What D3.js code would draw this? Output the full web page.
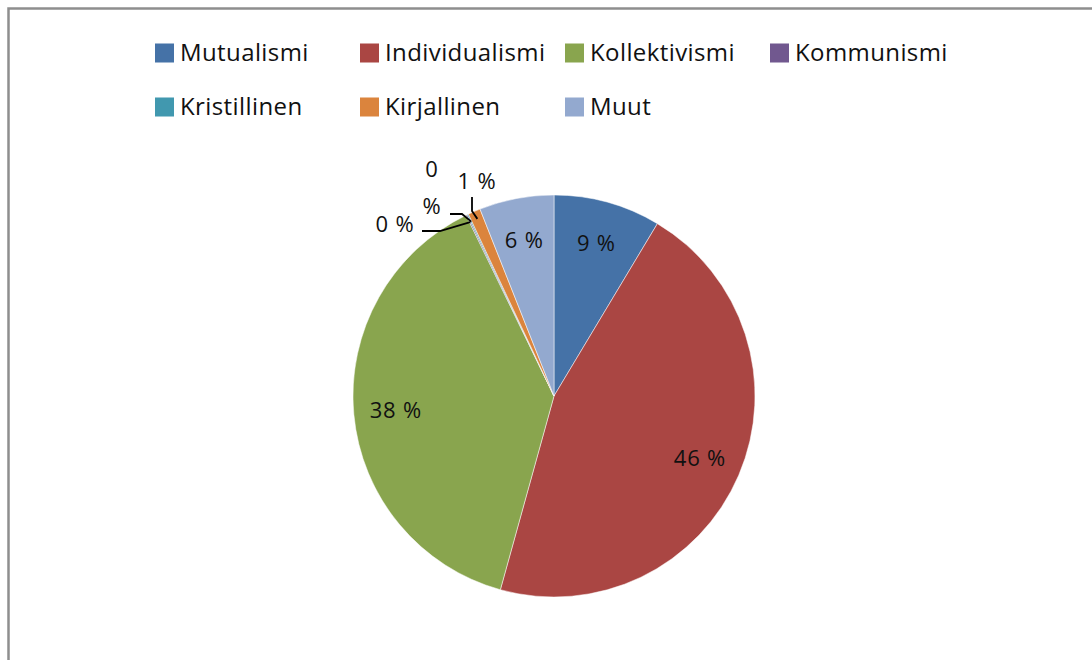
<!DOCTYPE html>
<html>
<head>
<meta charset="utf-8">
<script src="https://cdn.jsdelivr.net/npm/d3@7"></script>
<style>
  html, body { margin: 0; padding: 0; background: #fff; }
  svg { display: block; }
  text { font-family: "Open Sans", Lato, sans-serif; }
</style>
</head>
<body>
<svg id="chart" width="1092" height="660"></svg>
<script>
// slice order as drawn, clockwise from 12 o'clock
const categories = ['Mutualismi', 'Individualismi', 'Kollektivismi', 'Kommunismi', 'Kristillinen', 'Kirjallinen', 'Muut'];
const shares = [8.6, 45.7, 38.5, 0.1, 0.1, 1.0, 6.0];
const labels = ['9 %', '46 %', '38 %', '0 %', '0\n%', '1 %', '6 %'];
const colors = ['#4572A7', '#AA4643', '#89A54E', '#71588F', '#4198AF', '#DB843D', '#93A9CF'];

const svg = d3.select('#chart');
const cx = 554, cy = 396, radius = 201;

// frame of the chart area (runs off the right and bottom of the shot)
svg.append('rect')
    .attr('x', 8.5).attr('y', 8.5)
    .attr('width', 1200).attr('height', 800)
    .attr('fill', '#fff')
    .attr('stroke', '#8e8e8e')
    .attr('stroke-width', 2.5);

const data = categories.map((c, i) => ({name: c, value: shares[i], label: labels[i], color: colors[i]}));

const pie = d3.pie().sort(null).value(d => d.value);
const arcs = pie(data);

const arc = d3.arc().innerRadius(0).outerRadius(radius);
const labelArc = d3.arc().innerRadius(radius * 0.79).outerRadius(radius * 0.79);
const edgeArc = d3.arc().innerRadius(radius - 8).outerRadius(radius - 8);

const g = svg.append('g').attr('transform', `translate(${cx},${cy})`);

g.selectAll('path')
    .data(arcs)
    .enter()
    .append('path')
    .attr('d', arc)
    .attr('fill', d => d.data.color)
    .attr('stroke', '#fff')
    .attr('stroke-width', 0.5);

// small slices get their labels outside, with leader lines (offsets from the pie centre)
const outside = {
    'Kommunismi':   {x: -159, y: -172, lead: [[-132, -165], [-114, -165]]},
    'Kristillinen': {x: -122, y: -227, lead: [[-104, -182], [-92, -182]]},
    'Kirjallinen':  {x: -77,  y: -215, lead: [[-82, -199], [-82, -185]]}
};

const inside = arcs.filter(d => !outside[d.data.name]);
const outer = arcs.filter(d => outside[d.data.name]);

g.selectAll('text.in')
    .data(inside)
    .enter()
    .append('text')
    .attr('class', 'in')
    .attr('transform', d => `translate(${labelArc.centroid(d)})`)
    .attr('text-anchor', 'middle')
    .attr('dy', '0.35em')
    .attr('font-size', 22)
    .attr('letter-spacing', 0.8)
    .attr('fill', '#111')
    .text(d => d.data.label);

g.selectAll('polyline')
    .data(outer)
    .enter()
    .append('polyline')
    .attr('points', d => {
        const o = outside[d.data.name];
        return [...o.lead, edgeArc.centroid(d)].map(p => p.join(',')).join(' ');
    })
    .attr('fill', 'none')
    .attr('stroke', '#000')
    .attr('stroke-width', 1.8);

const outText = g.selectAll('text.out')
    .data(outer)
    .enter()
    .append('text')
    .attr('class', 'out')
    .attr('text-anchor', 'middle')
    .attr('font-size', 22)
    .attr('letter-spacing', 0.8)
    .attr('fill', '#111');

outText.selectAll('tspan')
    .data(d => d.data.label.split('\n').map(t => ({t, o: outside[d.data.name]})))
    .enter()
    .append('tspan')
    .attr('x', d => d.o.x)
    .attr('y', (d, i) => d.o.y + i * 37)
    .attr('dy', '0.35em')
    .text(d => d.t);

// legend: two rows, four equal columns
const legend = svg.append('g').attr('transform', 'translate(155,53)');
const colW = 205, rowH = 54, box = 19;

const item = legend.selectAll('g')
    .data(data)
    .enter()
    .append('g')
    .attr('transform', (d, i) => `translate(${(i % 4) * colW},${Math.floor(i / 4) * rowH})`);

item.append('rect')
    .attr('x', 0).attr('y', -box / 2)
    .attr('width', box).attr('height', box)
    .attr('fill', d => d.color);

item.append('text')
    .attr('x', 25)
    .attr('dy', '0.35em')
    .attr('font-size', 24)
    .attr('letter-spacing', 0.4)
    .attr('fill', '#111')
    .text(d => d.name);
</script>
</body>
</html>
